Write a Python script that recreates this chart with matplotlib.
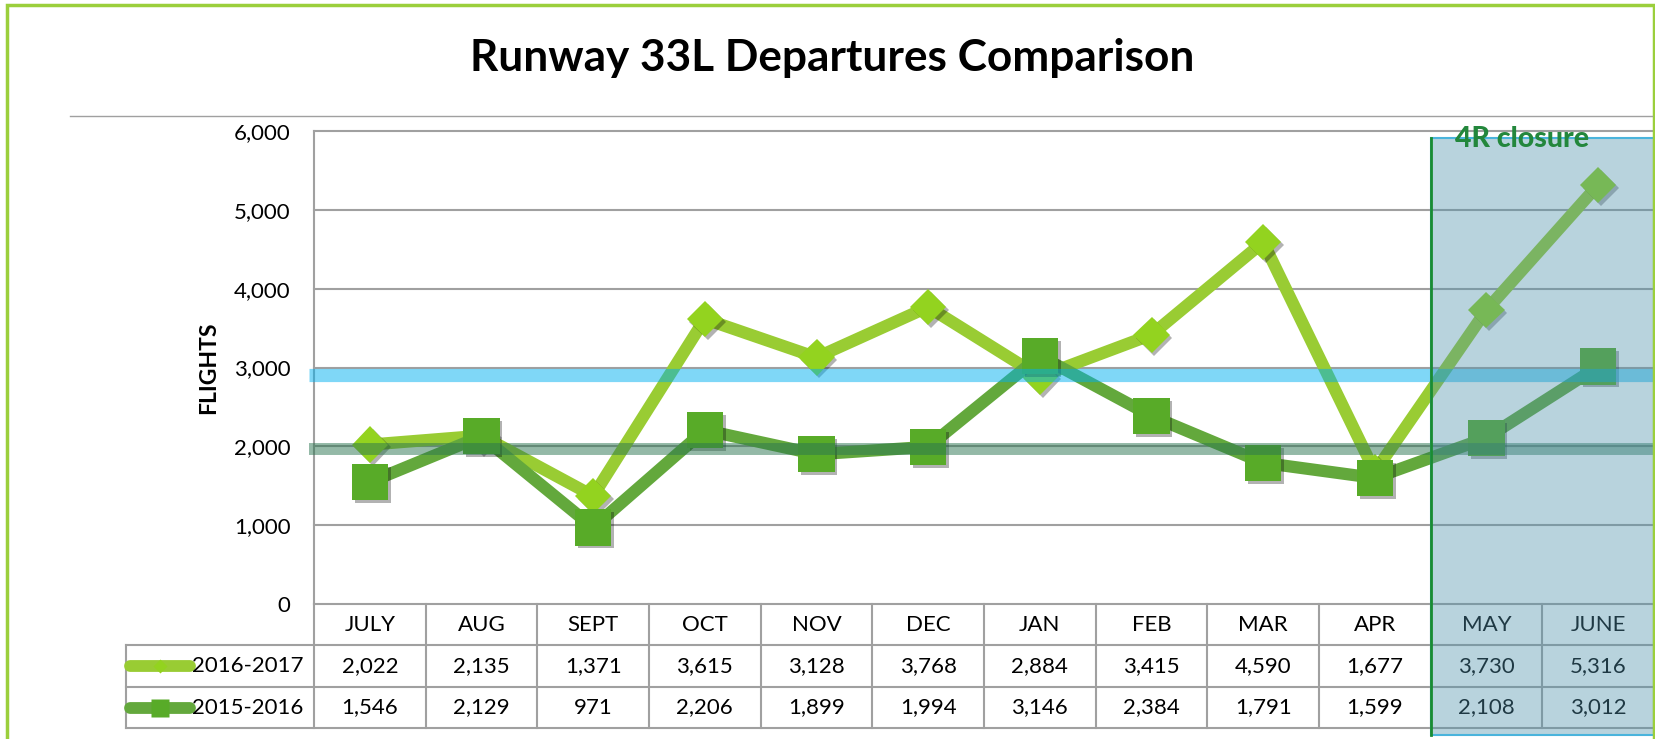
import numpy as np
import matplotlib.pyplot as plt
import matplotlib.patches as patches
import matplotlib.patheffects as pe
import matplotlib.transforms as mtransforms
from matplotlib.lines import Line2D

# data
months = ['JULY', 'AUG', 'SEPT', 'OCT', 'NOV', 'DEC', 'JAN', 'FEB', 'MAR', 'APR', 'MAY', 'JUNE']
flights_1617 = [2022, 2135, 1371, 3615, 3128, 3768, 2884, 3415, 4590, 1677, 3730, 5316]
flights_1516 = [1546, 2129, 971, 2206, 1899, 1994, 3146, 2384, 1791, 1599, 2108, 3012]
series_names = ['2016-2017', '2015-2016']
band_1617 = 2910   # blue reference band
band_1516 = 1965   # green reference band
closure_start, closure_end = 'MAY', 'JUNE'
yticks = [0, 1000, 2000, 3000, 4000, 5000, 6000]

plt.rcParams['font.family'] = ['Lato', 'DejaVu Sans']

W, H = 1655, 739
fig = plt.figure(figsize=(W / 100, H / 100), dpi=100)
ax = fig.add_axes([314 / W, 1 - 604 / H, 1340 / W, 473 / H])
x = np.arange(len(months))
blend = mtransforms.blended_transform_factory(ax.transData, ax.transAxes)

c_light, c_light_mk = '#99CC33', '#93D31F'
c_dark, c_dark_mk = '#63A83C', '#58AB28'
grey = '#A0A0A0'
shadow = [pe.SimplePatchShadow(offset=(2, -2), shadow_rgbFace='k', alpha=0.3), pe.Normal()]

# series
ax.plot(x, flights_1617, color=c_light, lw=8.8, solid_joinstyle='round', zorder=3)
ax.plot(x, flights_1617, ls='none', marker='D', ms=18.5, mfc=c_light_mk, mec='none',
        zorder=3.1, path_effects=shadow)
ax.plot(x, flights_1516, color=c_dark, lw=8.8, solid_joinstyle='round', zorder=4)
ax.plot(x, flights_1516, ls='none', marker='s', ms=26, mfc=c_dark_mk, mec='none',
        zorder=4.1, path_effects=shadow)

# reference bands
ax.axhline(band_1617, xmin=-0.004, color='#00B0F0', alpha=0.5, lw=9.5,
           solid_capstyle='butt', zorder=5, clip_on=False)
ax.axhline(band_1516, xmin=-0.004, color='#2A7550', alpha=0.5, lw=8.6,
           solid_capstyle='butt', zorder=5, clip_on=False)

# axes styling
ax.set_xlim(-0.5, len(months) - 0.5)
ax.set_ylim(0, 6000)
ax.set_yticks(yticks)
ax.set_yticklabels([f'{v:,}' for v in yticks])
ax.set_xticks([])
ax.tick_params(axis='y', length=0, pad=17, labelsize=16)
ax.yaxis.grid(True, color=grey, lw=1.5)
for gl in ax.get_ygridlines():
    gl.set_clip_on(False)
ax.set_axisbelow(True)
for s in ['top', 'right', 'bottom']:
    ax.spines[s].set_visible(False)
ax.spines['left'].set_color(grey)
ax.spines['left'].set_linewidth(1.5)
ax.set_ylabel('FLIGHTS', fontsize=16.5, fontweight='bold')
ax.yaxis.set_label_coords(-0.0705, 0.5)

# data table under the plot
row_edges = [0, -0.0867, -0.1755, -0.2622]
leg_left = -2.18
for xb in np.arange(-0.5, len(months)):
    ax.plot([xb, xb], [row_edges[0], row_edges[-1]], transform=blend, color=grey,
            lw=1.5, clip_on=False, zorder=2)
ax.plot([leg_left, leg_left], [row_edges[1], row_edges[-1]], transform=blend,
        color=grey, lw=1.5, clip_on=False, zorder=2)
for yb in row_edges[1:]:
    ax.plot([leg_left, len(months) - 0.5], [yb, yb], transform=blend, color=grey,
            lw=1.5, clip_on=False, zorder=2)

for i, m in enumerate(months):
    ax.text(i, (row_edges[0] + row_edges[1]) / 2, m, transform=blend, ha='center',
            va='center', fontsize=16, clip_on=False)

rows = [(flights_1617, c_light, c_light_mk, 'D', 7),
        (flights_1516, c_dark, c_dark_mk, 's', 13.5)]
for r, (vals, lc, mc, mk, ms) in enumerate(rows):
    ymid = (row_edges[r + 1] + row_edges[r + 2]) / 2
    for i, v in enumerate(vals):
        ax.text(i, ymid, f'{v:,}', transform=blend, ha='center', va='center',
                fontsize=16, clip_on=False)
    ax.plot([-2.148, -1.61], [ymid, ymid], transform=blend, color=lc, lw=8.5,
            solid_capstyle='round', clip_on=False)
    ax.plot([-1.879], [ymid], transform=blend, ls='none', marker=mk, ms=ms,
            mfc=mc, mec='none', clip_on=False)
    ax.text(-1.59, ymid, series_names[r], transform=blend, ha='left', va='center',
            fontsize=16, clip_on=False)

# 4R closure shading
x0 = months.index(closure_start) - 0.5
x1 = months.index(closure_end) + 0.5
ax.add_patch(patches.Rectangle((x0, -0.277), x1 - x0, 0.985 + 0.277, transform=blend,
                               facecolor=(0.31, 0.57, 0.67, 0.4), edgecolor='#4AB4DC',
                               lw=1.5, zorder=6, clip_on=False))
for xb in [x0, x1]:
    ax.plot([xb, xb], [-0.277, 0.985], transform=blend, color='#1A8C32', lw=2,
            zorder=6.5, clip_on=False)
ax.text(10.32, 0.983, '4R closure', transform=blend, ha='center', va='center',
        fontsize=20.5, fontweight='black', color='#23873C', zorder=7, clip_on=False)

# title, rule and frame
fig.text(0.503, 1 - 71 / H, 'Runway 33L Departures Comparison', ha='center',
         va='baseline', fontsize=31.8, fontweight='bold')
fig.add_artist(Line2D([70 / W, 1652 / W], [1 - 116 / H, 1 - 116 / H], color=grey, lw=1))
fig.add_artist(patches.Rectangle((7 / W, -0.05), (1654 - 7) / W, 1.05 - 5 / H,
                                 transform=fig.transFigure, fill=False,
                                 edgecolor='#9BCF3C', lw=2.5))

fig.savefig('out.png', dpi=100)
